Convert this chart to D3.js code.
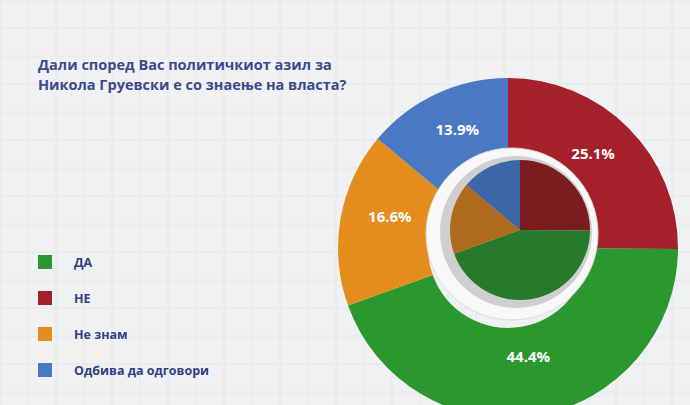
<!DOCTYPE html>
<html><head><meta charset="utf-8">
<script src="https://cdn.jsdelivr.net/npm/d3@7"></script>
<style>body{margin:0;background:#eef0f2;}svg{display:block;font-family:"Open Sans",sans-serif;}</style>
</head><body><svg id="c" width="690" height="405"></svg>
<script>
// podatoci
var labels = ["НЕ", "ДА", "Не знам", "Одбива да одговори"];
var values = [25.1, 44.4, 16.6, 13.9];
var colors = ["#a5202a", "#2b972f", "#e48c1c", "#4a79c4"];
var darks = ["#7a1c20", "#267a2a", "#b06a1e", "#3c66a6"];
var legendOrder = [1, 0, 2, 3];
var title = ["Дали според Вас политичкиот азил за", "Никола Груевски е со знаење на власта?"];

var svg = d3.select("#c");
// pozadina so linii
var bg = svg.append("g");
bg.append("rect").attr("width", 690).attr("height", 405).attr("fill", "#f0f1f3");
d3.range(0, 690, 28).forEach(function(x){
  bg.append("line").attr("x1", x).attr("x2", x).attr("y1", 0).attr("y2", 405).attr("stroke", "#e4e6e9");
});
d3.range(0, 405, 28).forEach(function(y){
  bg.append("line").attr("x1", 0).attr("x2", 690).attr("y1", y).attr("y2", y).attr("stroke", "#e4e6e9");
});

svg.selectAll(".t").data(title).enter().append("text")
  .attr("x", 38).attr("y", function(d,i){ return 70 + i*20; })
  .attr("font-size", 14.5).attr("font-weight", 700).attr("fill", "#3a4a8c").text(function(d){ return d; });

var pie = d3.pie().sort(null).value(function(d){ return d; });
var arcs = pie(values);
var cx = 508, cy = 248;
var g = svg.append("g").attr("transform", "translate(" + cx + "," + cy + ")");
var arc = d3.arc().innerRadius(80).outerRadius(170);
g.selectAll(".s").data(arcs).enter().append("path")
  .attr("d", arc).attr("fill", function(d,i){ return colors[i]; });

// beliot prsten
g.append("circle").attr("cx", 4).attr("cy", -14).attr("r", 86).attr("fill", "#f8f8f8").attr("stroke", "#dcdcdc");
g.append("circle").attr("cx", 8).attr("cy", -16).attr("r", 76).attr("fill", "#cfcfcf");

var inner = d3.arc().innerRadius(0).outerRadius(70);
var ig = g.append("g").attr("transform", "translate(12,-18)");
ig.selectAll(".i").data(arcs).enter().append("path")
  .attr("d", inner).attr("fill", function(d,i){ return darks[i]; });

var lab = d3.arc().innerRadius(120).outerRadius(120);
g.selectAll(".l").data(arcs).enter().append("text")
  .attr("transform", function(d){ var p = lab.centroid(d); return "translate(" + p[0] + "," + (p[1] - 10) + ")"; })
  .attr("text-anchor", "middle").attr("dy", "0.35em")
  .attr("font-size", 15).attr("font-weight", 700).attr("fill", "#fff")
  .text(function(d){ return d.value.toFixed(1) + "%"; });

var lg = svg.append("g").attr("transform", "translate(38,255)");
legendOrder.forEach(function(k, j){
  var row = lg.append("g").attr("transform", "translate(0," + j*36 + ")");
  row.append("rect").attr("width", 14).attr("height", 14).attr("fill", colors[k]);
  row.append("text").attr("x", 36).attr("y", 12).attr("font-size", 12.5).attr("font-weight", 700)
    .attr("fill", "#2f3f80").text(labels[k]);
});
</script></body></html>
